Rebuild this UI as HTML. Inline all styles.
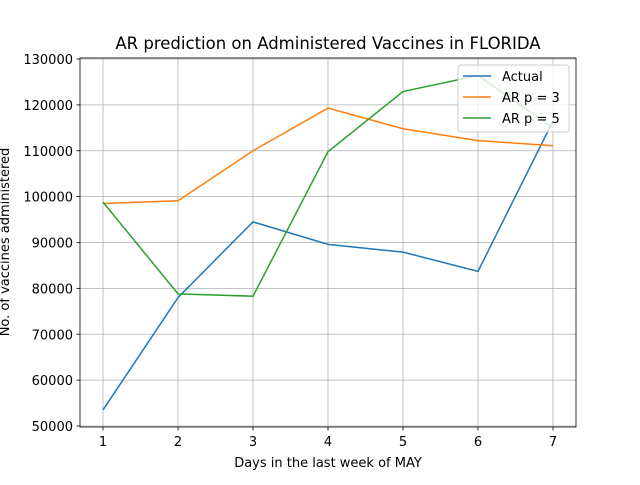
<!DOCTYPE html>
<html><head><meta charset="utf-8"><style>
body{margin:0;background:#fff}
svg text{font-family:"DejaVu Sans","Liberation Sans",sans-serif;fill:#000}
</style></head><body>
<svg id="c" width="640" height="480" xmlns="http://www.w3.org/2000/svg"></svg>
<script>
const categories=[1,2,3,4,5,6,7];
const actual=[53500,78000,94500,89600,87900,83700,116500];
const ar3=[98500,99100,110000,119300,114800,112200,111100];
const ar5=[98800,78800,78300,109800,122900,126400,115000];
const yTicks=[50000,60000,70000,80000,90000,100000,110000,120000,130000];
const L=80,R=576,T=58,B=427;
const x=v=>103+(v-1)*75;
const y=v=>426-(v-50000)/10000*45.875;
const s=document.getElementById('c');
const NS='http://www.w3.org/2000/svg';
function mk(t,a,p){const e=document.createElementNS(NS,t);for(const k in a)e.setAttribute(k,a[k]);(p||s).appendChild(e);return e;}
categories.forEach(c=>{const l=mk('line',{x1:x(c),x2:x(c),y1:T,y2:B,stroke:'#b0b0b0','stroke-width':0.8});


mk('line',{x1:x(c),x2:x(c),y1:B,y2:B+3.5,stroke:'#000','stroke-width':0.8});
const tx=mk('text',{x:x(c),y:B+19,'text-anchor':'middle','font-size':13});tx.textContent=c;

});
yTicks.forEach(v=>{const l=mk('line',{x1:L,x2:R,y1:y(v),y2:y(v),stroke:'#b0b0b0','stroke-width':0.8});


mk('line',{x1:L-3.5,x2:L,y1:y(v),y2:y(v),stroke:'#000','stroke-width':0.8});
const tx=mk('text',{x:L-7,y:y(v)+5,'text-anchor':'end','font-size':13});tx.textContent=v;

});
const series=[[actual,'#1f77b4','Actual','series-actual'],[ar3,'#ff7f0e','AR p = 3','series-ar3'],[ar5,'#2ca02c','AR p = 5','series-ar5']];
series.forEach(([d,c,n,id])=>{const p=mk('polyline',{points:d.map((v,i)=>x(categories[i])+','+y(v)).join(' '),fill:'none',stroke:c,'stroke-width':1.5});

});
const fr=mk('rect',{x:L,y:T,width:R-L,height:B-T,fill:'none',stroke:'#000','stroke-width':0.8});


const g=mk('g',{});


mk('rect',{x:458,y:65,width:111,height:67,rx:3,fill:'#fff','fill-opacity':0.8,stroke:'#ccc'},g);
series.forEach(([d,c,n],i)=>{const yy=76+i*21;mk('line',{x1:463,x2:491,y1:yy,y2:yy,stroke:c,'stroke-width':1.5},g);
const t=mk('text',{x:502,y:yy+5,'font-size':13},g);t.textContent=n;

});
const ti=mk('text',{x:328,y:49,'text-anchor':'middle','font-size':16.5});ti.textContent='AR prediction on Administered Vaccines in FLORIDA';


const xl=mk('text',{x:328,y:467,'text-anchor':'middle','font-size':13});xl.textContent='Days in the last week of MAY';


const yl=mk('text',{x:0,y:0,'text-anchor':'middle','font-size':13,transform:'translate(9,242) rotate(-90)'});yl.textContent='No. of vaccines administered';


</script>
</body></html>
